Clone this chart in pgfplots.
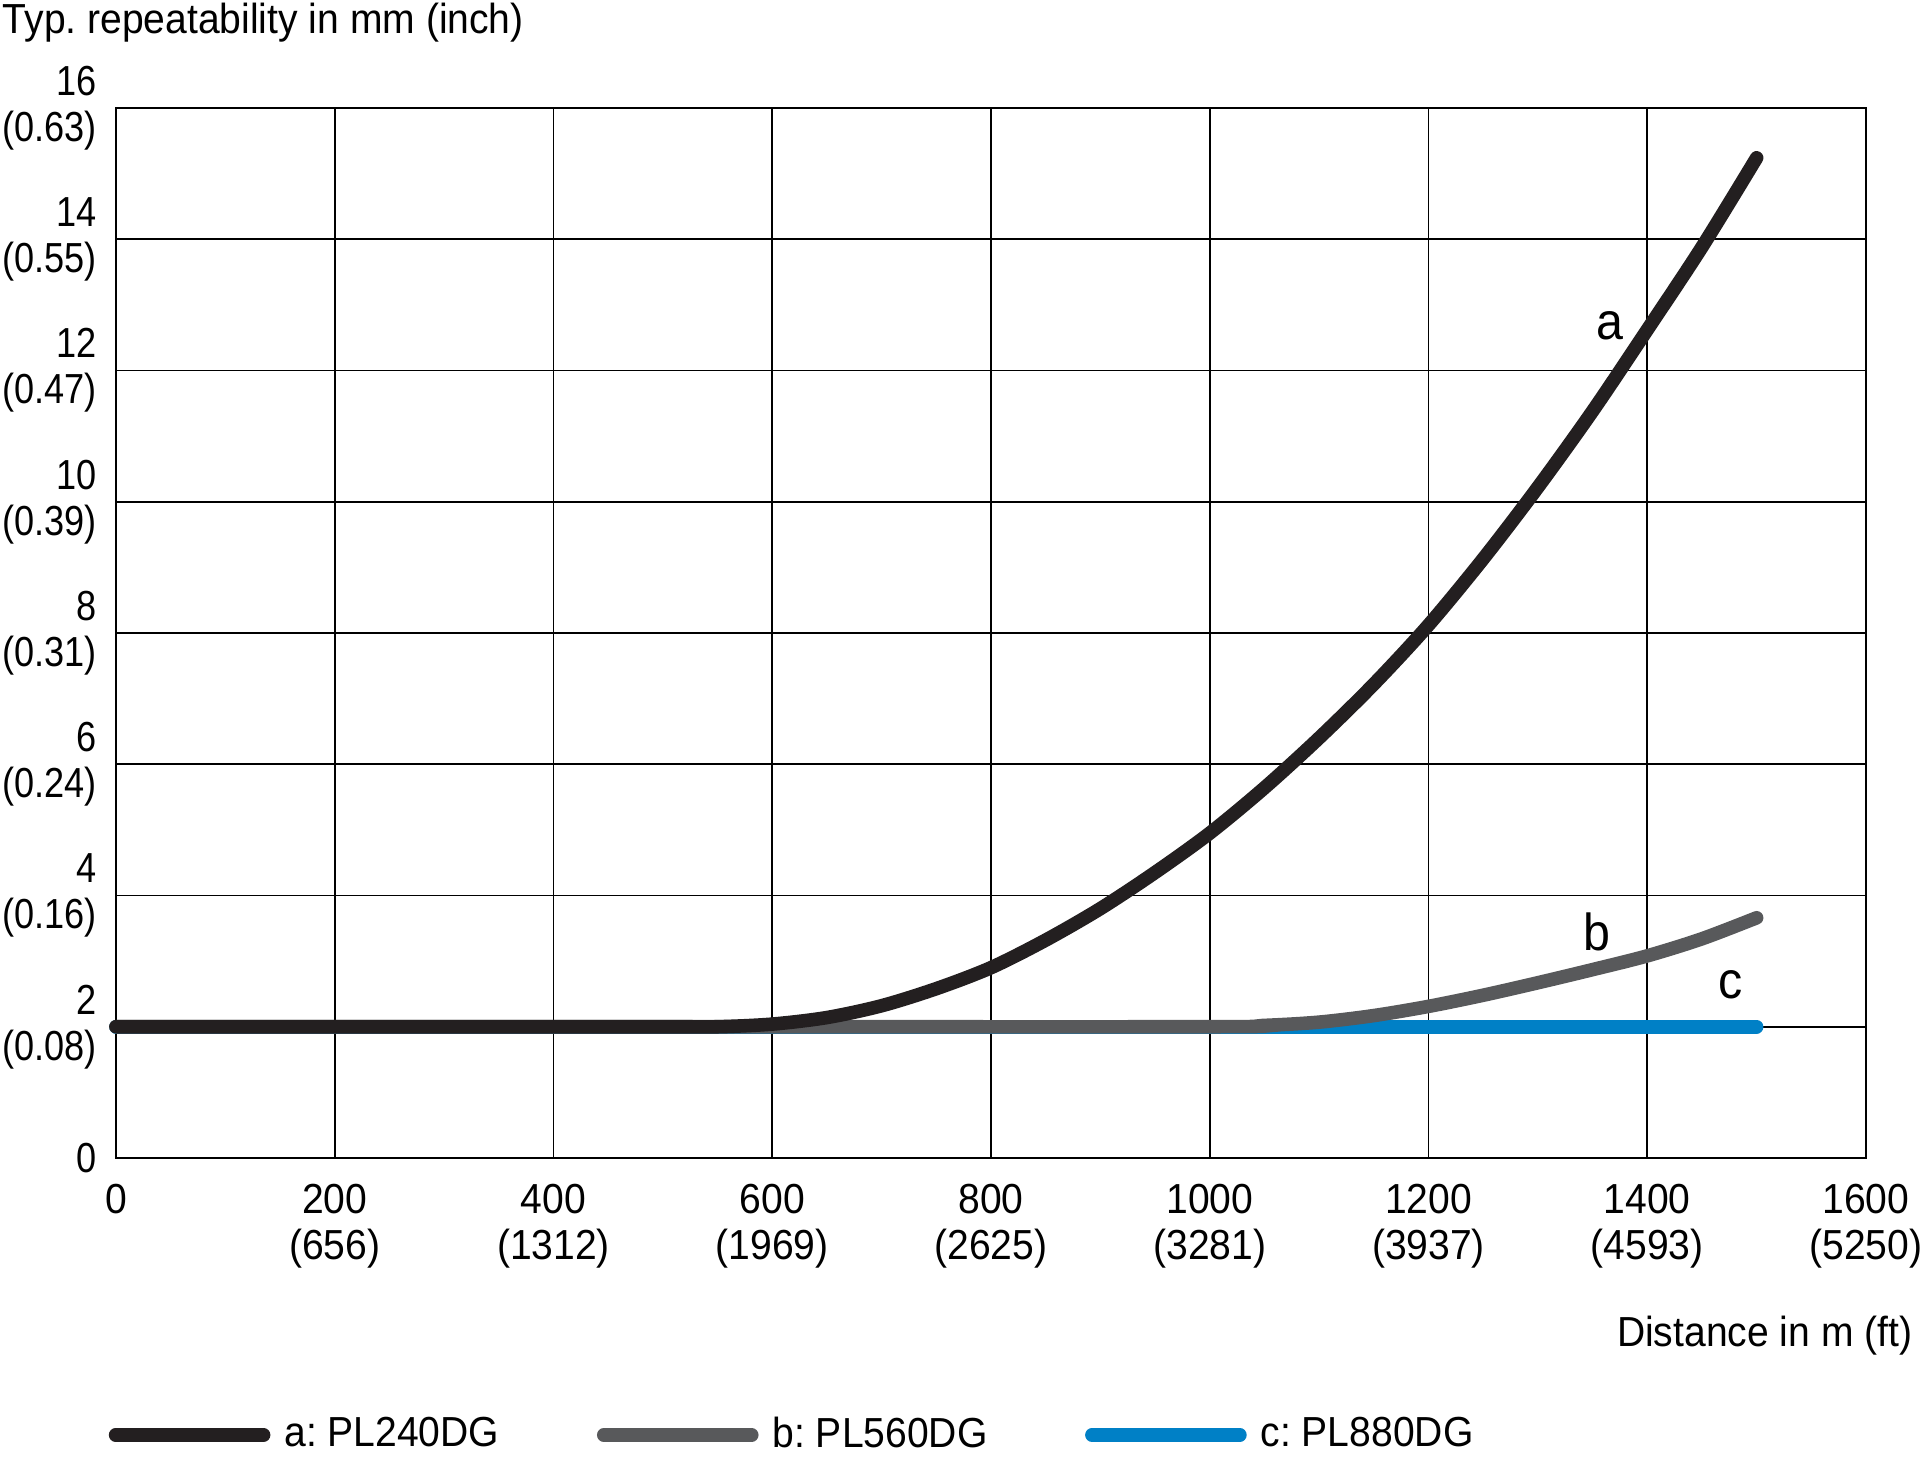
\documentclass[border=0pt]{standalone}
\usepackage{fontspec}
\setmainfont{Liberation Sans}[FakeStretch=0.93]
\newfontfamily\narrowfont{Liberation Sans}[FakeStretch=0.86]
\usepackage{pgfplots}
\pgfplotsset{compat=1.18}
\definecolor{ca}{HTML}{231F20}
\definecolor{cb}{HTML}{58595B}
\definecolor{cc}{HTML}{0080C6}
\frenchspacing
\begin{document}
\begin{tikzpicture}
\useasboundingbox (0,0) rectangle (480pt,365.75pt);
\begin{axis}[
  at={(29pt,76.25pt)}, anchor=south west,
  scale only axis, width=437.5pt, height=262.5pt,
  xmin=0, xmax=1600, ymin=0, ymax=16,
  clip=false,
  xtick={0,200,...,1600}, ytick={0,2,...,16},
  xticklabels={0,200\\(656),400\\(1312),600\\(1969),800\\(2625),1000\\(3281),1200\\(3937),1400\\(4593),1600\\(5250)},
  yticklabels={0,2\\(0.08),4\\(0.16),6\\(0.24),8\\(0.31),10\\(0.39),12\\(0.47),14\\(0.55),16\\(0.63)},
  grid=major, major grid style={black, line width=0.4pt},
  axis line style={black, line width=0.5pt},
  major tick length=0pt,
  tick label style={font=\fontsize{10.5}{11.5}\selectfont, text=black},
  xticklabel style={align=center, anchor=north, yshift=-3pt},
  yticklabel style={font=\fontsize{10.5}{11.5}\selectfont\narrowfont, align=right, anchor=east, xshift=-3.7pt, inner xsep=1pt},
  legend columns=3,
  legend style={at={(0,-0.2638)}, anchor=west, xshift=-2pt, draw=none, fill=none, inner sep=0pt,
    font=\fontsize{10.5}{12}\selectfont,
    /tikz/every even column/.append style={column sep=22.4pt}},
  legend image code/.code={\draw[#1, line width=3.4pt, line cap=round] (0pt,0pt) -- (37pt,0pt); \path (40pt,0pt);},
]
\addlegendimage{ca}
\addlegendentry{a: PL240DG}
\addlegendimage{cb}
\addlegendentry{b: PL560DG}
\addlegendimage{cc}
\addlegendentry{c: PL880DG}

\addplot[forget plot, cc, line width=3.4pt, line cap=round] coordinates {(0,2) (1500,2)};
\addplot[forget plot, cb, line width=3.4pt, line cap=round, smooth] coordinates {
(0,2) (500,2) (1000,2) (1050,2.02) (1100,2.07) (1150,2.17) (1200,2.31) (1250,2.48)
(1300,2.67) (1350,2.87) (1400,3.08) (1450,3.34) (1500,3.66)};
\addplot[forget plot, ca, line width=3.4pt, line cap=round, smooth] coordinates {
(0,2) (250,2) (500,2) (550,2.0) (600,2.04) (650,2.14) (700,2.32) (750,2.58) (800,2.9)
(850,3.32) (900,3.8) (950,4.35) (1000,4.95) (1050,5.64) (1100,6.4) (1150,7.22)
(1200,8.12) (1250,9.13) (1300,10.22) (1350,11.38) (1400,12.62) (1450,13.88) (1500,15.24)};

\node[font=\fontsize{13}{15}\selectfont] at (axis cs:1366,12.68) {a};
\node[font=\fontsize{13}{15}\selectfont] at (axis cs:1354,3.44) {b};
\node[font=\fontsize{13}{15}\selectfont] at (axis cs:1476,2.64) {c};
\end{axis}
\node[anchor=base west, inner sep=0pt, font=\fontsize{10.5}{12}\selectfont] at (0.5pt,357.25pt) {Typ. repeatability in mm (inch)};
\node[anchor=base east, inner sep=0pt, font=\fontsize{10.5}{12}\selectfont] at (478.25pt,29pt) {Distance in m (ft)};
\end{tikzpicture}
\end{document}
